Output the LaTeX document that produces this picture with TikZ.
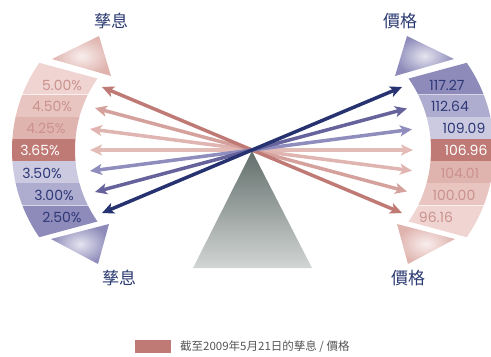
\documentclass[tikz,border=0pt]{standalone}
\usepackage{fontspec}
\newfontfamily\cjk{Noto Sans CJK TC}
\newfontfamily\numfont{Poppins}
\usetikzlibrary{arrows.meta}
\definecolor{pinkA}{HTML}{EFD4D1}
\definecolor{pinkB}{HTML}{E8C5C1}
\definecolor{pinkC}{HTML}{DFB3AE}
\definecolor{redD}{HTML}{C07A76}
\definecolor{lavA}{HTML}{CBCAE0}
\definecolor{lavB}{HTML}{AFADCF}
\definecolor{lavC}{HTML}{8E8BBA}
\definecolor{aone}{HTML}{C07A76}
\definecolor{atwo}{HTML}{D5A19D}
\definecolor{athree}{HTML}{E0B4B0}
\definecolor{afour}{HTML}{E3BBB7}
\definecolor{afive}{HTML}{8F8DBD}
\definecolor{asix}{HTML}{65629C}
\definecolor{aseven}{HTML}{273370}
\definecolor{titleblue}{HTML}{2B3A72}
\definecolor{navytxt}{HTML}{2E3878}
\definecolor{pinktxt}{HTML}{CB928E}
\definecolor{legendgray}{HTML}{555555}
\definecolor{greytop}{HTML}{626E6B}
\definecolor{greybot}{HTML}{D2D6D5}
\begin{document}
\begin{tikzpicture}[x=1bp,y=-1bp,
  rowtxt/.style={font=\numfont\fontsize{14bp}{14bp}\selectfont, inner sep=0pt},
  titletxt/.style={font=\cjk\fontsize{17bp}{17bp}\selectfont, text=titleblue, inner sep=0pt},
  dbl/.style={line width=3.5bp, {Stealth[length=12bp,width=11bp,inset=3bp]}-{Stealth[length=12bp,width=11bp,inset=3bp]}},
  ringfill/.style={even odd rule, fill=#1},
]
\useasboundingbox (0,0) rectangle (491,356);

% ---------- left band ----------
\begin{scope}
  \clip (0,52.2) -- (140,90) -- (140,94.4) -- (0,94.4) -- cycle;
  \fill[ringfill=pinkA] (165,150) circle[radius=153] (200,150) circle[radius=125];
\end{scope}
\foreach \ya/\yb/\c in {95/117/pinkB, 117/139/pinkC, 139/161/redD, 161/183/lavA, 183/205/lavB}{
  \begin{scope}
    \clip (0,\ya+0.6) rectangle (140,\yb-0.6);
    \fill[ringfill=\c] (165,150) circle[radius=153] (200,150) circle[radius=125];
  \end{scope}
}
\begin{scope}
  \clip (0,247.8) -- (140,210) -- (140,205.6) -- (0,205.6) -- cycle;
  \fill[ringfill=lavC] (165,150) circle[radius=153] (200,150) circle[radius=125];
\end{scope}
\shade[inner color=pinkA!40!white, outer color=pinkC] (99,36) -- (52,59) -- (111,76) -- cycle;
\shade[inner color=lavA!50!white, outer color=lavC] (51,239) -- (109,224) -- (98,264) -- cycle;

% ---------- right band (mirror) ----------
\begin{scope}[shift={(506,0)}, xscale=-1]
  \begin{scope}
    \clip (0,52.2) -- (140,90) -- (140,94.4) -- (0,94.4) -- cycle;
    \fill[ringfill=lavC] (165,150) circle[radius=153] (200,150) circle[radius=125];
  \end{scope}
  \foreach \ya/\yb/\c in {95/117/lavB, 117/139/lavA, 139/161/redD, 161/183/pinkC, 183/205/pinkB}{
    \begin{scope}
      \clip (0,\ya+0.6) rectangle (140,\yb-0.6);
      \fill[ringfill=\c] (165,150) circle[radius=153] (200,150) circle[radius=125];
    \end{scope}
  }
  \begin{scope}
    \clip (0,247.8) -- (140,210) -- (140,205.6) -- (0,205.6) -- cycle;
    \fill[ringfill=pinkA] (165,150) circle[radius=153] (200,150) circle[radius=125];
  \end{scope}
  \shade[inner color=lavA!50!white, outer color=lavC] (99,36) -- (52,59) -- (111,76) -- cycle;
  \shade[inner color=pinkA!40!white, outer color=pinkC] (51,239) -- (109,224) -- (98,264) -- cycle;
\end{scope}

% ---------- grey triangle ----------
\shade[top color=greytop, bottom color=greybot] (252,151) -- (312,268) -- (193,268) -- cycle;

% ---------- labels ----------
\node[rowtxt, text=pinktxt] (l1) at (62,85) {5.00\%};
\node[rowtxt, text=pinktxt] (l2) at (52,106) {4.50\%};
\node[rowtxt, text=pinktxt] (l3) at (46,128) {4.25\%};
\node[rowtxt, text=white] (l4) at (40,150) {3.65\%};
\node[rowtxt, text=navytxt] (l5) at (42,173) {3.50\%};
\node[rowtxt, text=navytxt] (l6) at (54,195) {3.00\%};
\node[rowtxt, text=navytxt] (l7) at (62,217) {2.50\%};

\node[rowtxt, text=navytxt] (r1) at (447,85) {117.27};
\node[rowtxt, text=navytxt] (r2) at (450,106) {112.64};
\node[rowtxt, text=navytxt] (r3) at (464,128) {109.09};
\node[rowtxt, text=white] (r4) at (466,150) {106.96};
\node[rowtxt, text=pinktxt] (r5) at (460,173) {104.01};
\node[rowtxt, text=pinktxt] (r6) at (454,195) {100.00};
\node[rowtxt, text=pinktxt] (r7) at (436,217) {96.16};

\node[titletxt] (t1) at (111,21) {孳息};
\node[titletxt] (t2) at (119,278) {孳息};
\node[titletxt] (t3) at (400,21) {價格};
\node[titletxt] (t4) at (408,278) {價格};

% ---------- arrows ----------
\coordinate (L1) at (102,87);   \coordinate (R1) at (402,213);
\coordinate (L2) at (95,108);   \coordinate (R2) at (407,191.5);
\coordinate (L3) at (90,129);   \coordinate (R3) at (412,170.7);
\coordinate (L4) at (90,150);   \coordinate (R4) at (413,150);
\coordinate (L5) at (90,171);   \coordinate (R5) at (412,129.3);
\coordinate (L6) at (95,192);   \coordinate (R6) at (407,108.5);
\coordinate (L7) at (102,213);  \coordinate (R7) at (402,87);
\draw[dbl, afour] (L4) -- (R4);
\draw[dbl, athree] (L3) -- (R3);
\draw[dbl, atwo] (L2) -- (R2);
\draw[dbl, aone] (L1) -- (R1);
\draw[dbl, afive] (L5) -- (R5);
\draw[dbl, asix] (L6) -- (R6);
\draw[dbl, aseven] (L7) -- (R7);

% ---------- legend ----------
\fill[redD] (135,340) rectangle (171,353);
\node[anchor=west, inner sep=0pt, text=legendgray, font=\cjk\fontsize{11.5bp}{11.5bp}\selectfont] (leg) at (180,347) {截至2009年5月21日的孳息 / 價格};
\end{tikzpicture}
\end{document}
